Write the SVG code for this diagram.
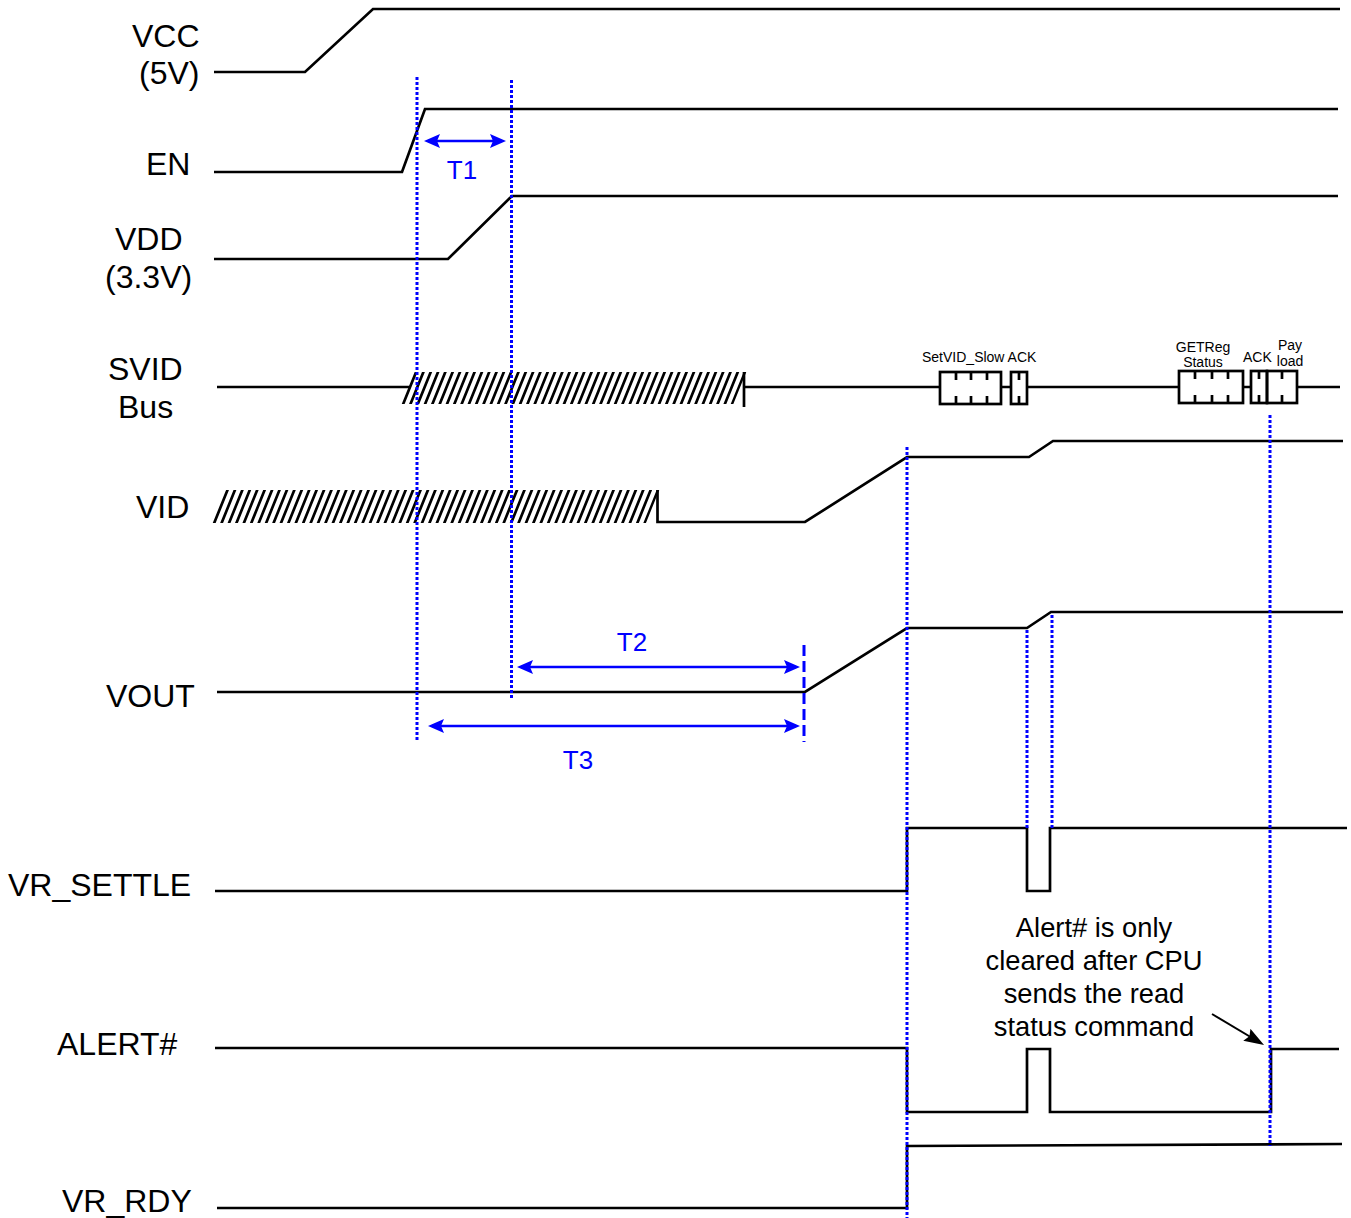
<svg xmlns="http://www.w3.org/2000/svg" width="1351" height="1218" viewBox="0 0 1351 1218">
<style>
.w{fill:none;stroke:#000;stroke-width:2.7;stroke-linejoin:miter}
.h{fill:none;stroke:#000}
.lbl{font-family:"Liberation Sans",Arial,sans-serif;font-size:32px;fill:#000}
.sm{font-family:"Liberation Sans",Arial,sans-serif;font-size:14px;fill:#000}
.note{font-family:"Liberation Sans",Arial,sans-serif;font-size:27.3px;fill:#000;text-anchor:middle}
.tl{font-family:"Liberation Sans",Arial,sans-serif;font-size:26px;fill:#0000FF;text-anchor:middle}
.guide{fill:none;stroke:#0000FF;stroke-width:3;stroke-dasharray:3 2}
.dash{fill:none;stroke:#0000FF;stroke-width:3;stroke-dasharray:11 5}
.dim{fill:none;stroke:#0000FF;stroke-width:2.7;marker-start:url(#ab);marker-end:url(#ab)}
</style>
<defs>
<marker id="ab" viewBox="0 0 16 14" refX="12" refY="7" markerWidth="16" markerHeight="14" markerUnits="userSpaceOnUse" orient="auto-start-reverse">
<path d="M0,0 L16,7 L0,14 L3,7 z" fill="#0000FF"/>
</marker>
<marker id="ak" viewBox="0 0 20 14" refX="16" refY="7" markerWidth="20" markerHeight="14" markerUnits="userSpaceOnUse" orient="auto">
<path d="M0,0 L20,7 L0,14 L3,7 z" fill="#000"/>
</marker>
</defs>

<g id="vcc">
<text class="lbl" x="132" y="47">VCC</text>
<text class="lbl" x="139" y="84">(5V)</text>
<path class="w" d="M214,72 H305 L373,9 H1340"/>
</g>

<g id="en">
<text class="lbl" x="146" y="175">EN</text>
<path class="w" d="M214,172 H402 L425,109 H1338"/>
</g>

<g id="vdd">
<text class="lbl" x="115" y="250">VDD</text>
<text class="lbl" x="105" y="288">(3.3V)</text>
<path class="w" d="M214,259 H448 L512,196 H1338"/>
</g>

<g id="svid">
<text class="lbl" x="108" y="380">SVID</text>
<text class="lbl" x="118" y="418">Bus</text>
<path class="w" d="M217,387 H410"/>
<line class="h" x1="408.2" y1="0" x2="739.8" y2="0" stroke-width="32" stroke-dasharray="2.9 4.411" transform="translate(0,388) skewX(-22)"/>
<path class="w" d="M744,372 V407 M744,387 H940 M1001,387 H1011 M1027,387 H1179 M1243,387 H1251 M1297,387 H1340"/>
<rect class="w" x="940" y="372" width="61" height="32"/>
<path class="w" d="M956,372 v8 M971,372 v8 M987,372 v8 M956,404 v-8 M971,404 v-8 M987,404 v-8"/>
<rect class="w" x="1011" y="372" width="16" height="32"/>
<path class="w" d="M1019,372 v8 M1019,404 v-8"/>
<rect class="w" x="1179" y="371" width="64" height="32"/>
<path class="w" d="M1195,371 v8 M1212,371 v8 M1228,371 v8 M1195,403 v-8 M1212,403 v-8 M1228,403 v-8"/>
<rect class="w" x="1251" y="371" width="16" height="32"/>
<path class="w" d="M1259,371 v8 M1259,403 v-8"/>
<rect class="w" x="1267" y="371" width="30" height="32"/>
<path class="w" d="M1282,371 v8 M1282,403 v-8"/>
<text class="sm" x="922" y="362">SetVID_Slow ACK</text>
<text class="sm" x="1203" y="352" text-anchor="middle">GETReg</text>
<text class="sm" x="1203" y="367" text-anchor="middle">Status</text>
<text class="sm" x="1243" y="362">ACK</text>
<text class="sm" x="1290" y="350" text-anchor="middle">Pay</text>
<text class="sm" x="1290" y="366" text-anchor="middle">load</text>
</g>

<g id="vid">
<text class="lbl" x="136" y="518">VID</text>
<line class="h" x1="219.4" y1="0" x2="652.6" y2="0" stroke-width="33" stroke-dasharray="2.9 4.524" transform="translate(0,506.5) skewX(-22)"/>
<path class="w" d="M657.5,490 V522 H805 L907,457 H1029 L1053,441 H1343"/>
</g>

<g id="vout">
<text class="lbl" x="106" y="707">VOUT</text>
<path class="w" d="M217,692 H805 L907,628 H1027 L1051,612 H1343"/>
</g>

<g id="vr_settle">
<text class="lbl" x="8" y="896">VR_SETTLE</text>
<path class="w" d="M215,891 H907 V828 H1027 V891 H1050 V828 H1347"/>
</g>

<g id="alert">
<text class="lbl" x="57" y="1055">ALERT#</text>
<path class="w" d="M215,1048 H907 V1112 H1027 V1049 H1050 V1112 H1271 V1049 H1339"/>
</g>

<g id="vr_rdy">
<text class="lbl" x="62" y="1212">VR_RDY</text>
<path class="w" d="M217,1208 H907 V1146 L1342,1144"/>
</g>

<g id="note">
<text class="note" x="1094" y="937">Alert# is only</text>
<text class="note" x="1094" y="970">cleared after CPU</text>
<text class="note" x="1094" y="1003">sends the read</text>
<text class="note" x="1094" y="1036">status command</text>
</g>

<g id="connectors">
<line class="guide" x1="417" y1="77" x2="417" y2="740"/>
<line class="guide" x1="511.5" y1="80" x2="511.5" y2="700"/>
<line class="guide" x1="907" y1="447" x2="907" y2="1218"/>
<line class="guide" x1="1027" y1="630" x2="1027" y2="828"/>
<line class="guide" x1="1052" y1="615" x2="1052" y2="828"/>
<line class="guide" x1="1270" y1="415" x2="1270" y2="1146"/>
<line class="dash" x1="804" y1="645" x2="804" y2="742"/>
<line class="dim" x1="428" y1="141" x2="502" y2="141"/>
<line class="dim" x1="521" y1="667" x2="796" y2="667"/>
<line class="dim" x1="432" y1="726" x2="796" y2="726"/>
<text class="tl" x="462" y="179">T1</text>
<text class="tl" x="632" y="651">T2</text>
<text class="tl" x="578" y="769">T3</text>
<line x1="1212" y1="1014" x2="1260.6" y2="1043" stroke="#000" stroke-width="2" marker-end="url(#ak)"/>
</g>
</svg>
